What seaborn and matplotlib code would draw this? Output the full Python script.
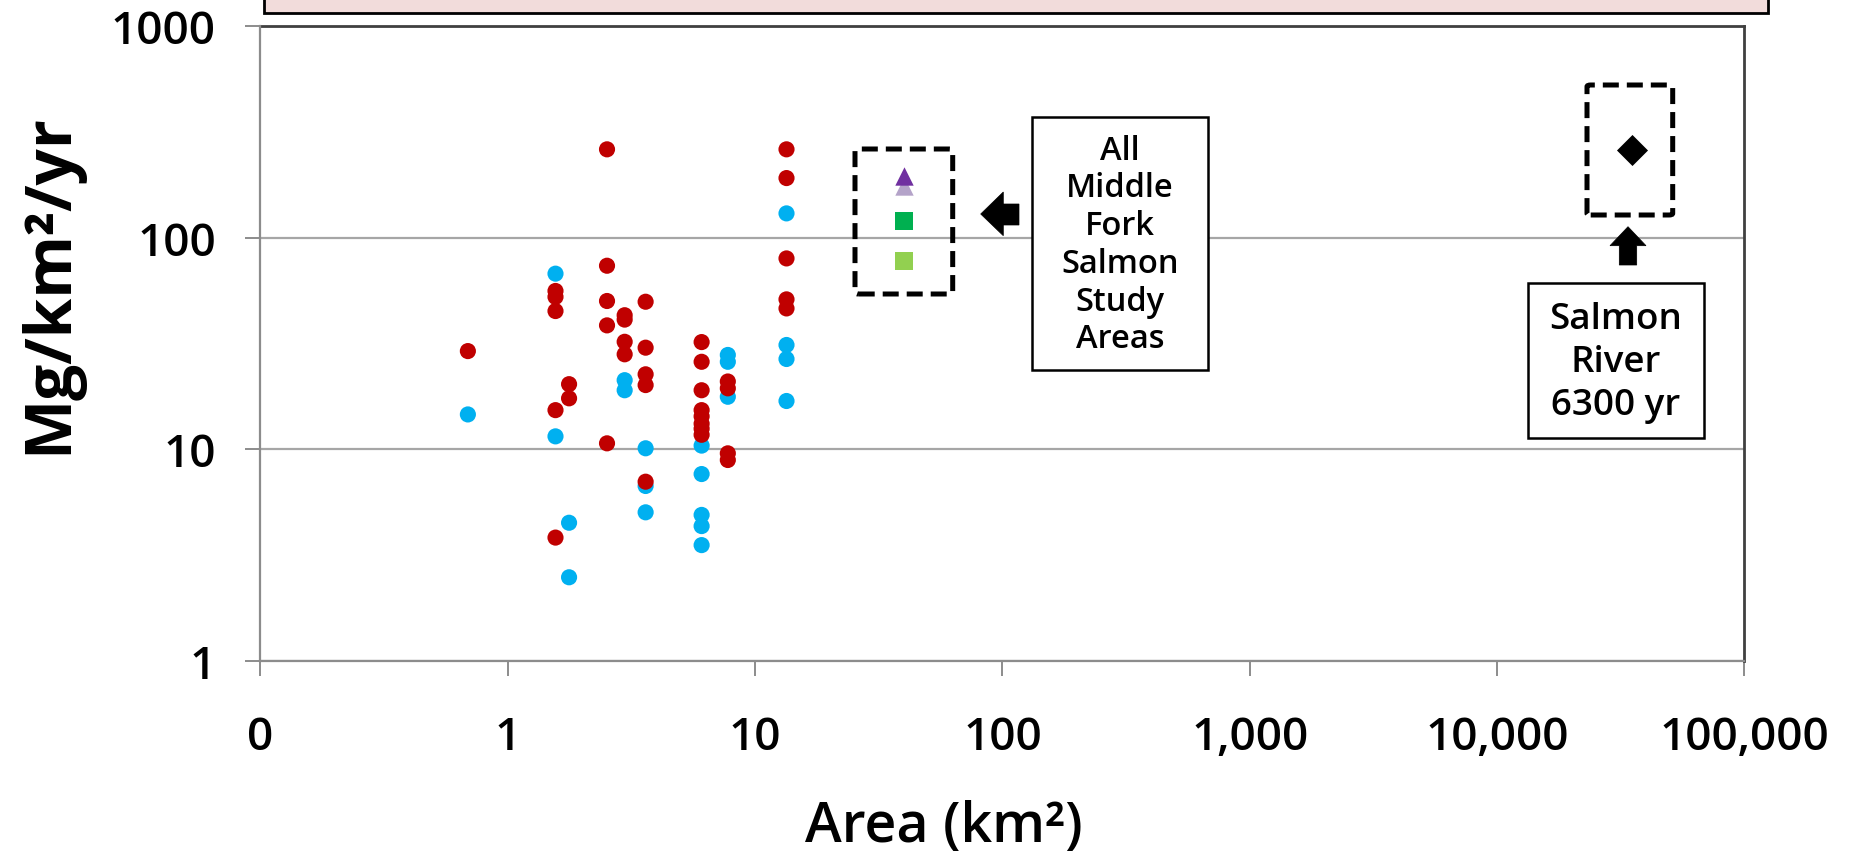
import matplotlib
matplotlib.use("Agg")
import matplotlib.pyplot as plt
import seaborn as sns
import pandas as pd
import numpy as np
from matplotlib.patches import Rectangle, Polygon, FancyBboxPatch

# ---------------- data ----------------
blue_x = [0.69, 1.56, 1.56, 1.77, 1.77, 2.97, 2.97, 3.61, 3.61, 3.61,
          6.08, 6.08, 6.08, 6.08, 6.08, 7.76, 7.76, 7.76,
          13.4, 13.4, 13.4, 13.4]
blue_y = [14.6, 67.6, 11.5, 4.49, 2.48, 21.2, 19.0, 10.1, 6.7, 5.03,
          10.4, 7.63, 4.89, 4.33, 3.52, 27.9, 25.9, 17.7,
          130.3, 31.1, 26.7, 16.9]

red_x = [0.69, 1.56, 1.56, 1.56, 1.56, 1.56, 1.77, 1.77,
         2.52, 2.52, 2.52, 2.52, 2.52, 2.97, 2.97, 2.97, 2.97,
         3.61, 3.61, 3.61, 3.61, 3.61,
         6.08, 6.08, 6.08, 6.08, 6.08, 6.08, 6.08, 6.08,
         7.76, 7.76, 7.76, 7.76,
         13.4, 13.4, 13.4, 13.4, 13.4]
red_y = [29.1, 56.0, 52.5, 45.0, 15.3, 3.82, 20.3, 17.4,
         261.7, 73.7, 50.2, 38.5, 10.66, 43.0, 41.0, 32.2, 28.1,
         49.8, 30.2, 22.6, 20.1, 7.02,
         32.1, 25.9, 19.0, 15.3, 14.3, 13.2, 12.5, 11.7,
         20.9, 19.4, 9.56, 8.89,
         261.7, 191.4, 79.8, 51.1, 46.3]

mfs_x = [40, 40, 40, 40]
mfs_y = [175, 196, 119.5, 78]
mfs_marker = ["^", "^", "s", "s"]
mfs_color = ["#b4a3c9", "#7030a0", "#00b050", "#92d050"]

salmon_x = [35000]
salmon_y = [260]

x_ticks = [0.1, 1, 10, 100, 1000, 10000, 100000]
x_tick_labels = ["0", "1", "10", "100", "1,000", "10,000", "100,000"]
y_ticks = [1, 10, 100, 1000]
y_tick_labels = ["1", "10", "100", "1000"]

# ---------------- figure ----------------
sns.set_theme(style="white")
plt.rcParams['font.family'] = ['Open Sans', 'DejaVu Sans']

W, H = 1856, 853
fig = plt.figure(figsize=(W / 100, H / 100), dpi=100)
fig.patch.set_facecolor("white")

def fx(x):
    return x / W

def fy(y):
    return 1 - y / H

ax_l, ax_r, ax_t, ax_b = 260.4, 1744.4, 27.2, 661.7
ax = fig.add_axes([fx(ax_l), fy(ax_b), (ax_r - ax_l) / W, (ax_b - ax_t) / H])
ax.set_facecolor("white")

df = pd.concat([
    pd.DataFrame({"area": blue_x, "rate": blue_y, "grp": "blue"}),
    pd.DataFrame({"area": red_x, "rate": red_y, "grp": "red"}),
])
sns.scatterplot(data=df, x="area", y="rate", hue="grp",
                palette={"blue": "#00b0f0", "red": "#c00000"},
                s=135, linewidth=0, legend=False, ax=ax, zorder=3)

for xv, yv, m, c in zip(mfs_x, mfs_y, mfs_marker, mfs_color):
    sz = 175 if m == "^" else 185
    sns.scatterplot(x=[xv], y=[yv], marker=m, color=c, s=sz, linewidth=0,
                    legend=False, ax=ax, zorder=3)

sns.scatterplot(x=salmon_x, y=salmon_y, marker="D", color="black", s=250,
                linewidth=0, legend=False, ax=ax, zorder=3)

ax.set_xscale("log")
ax.set_yscale("log")
ax.set_xlim(0.1, 100000)
ax.set_ylim(1, 1000)
ax.set_xticks(x_ticks)
ax.set_xticklabels(x_tick_labels)
ax.set_yticks(y_ticks)
ax.set_yticklabels(y_tick_labels)
ax.minorticks_off()

ax.yaxis.grid(True, color="#a6a6a6", linewidth=1.6)
ax.xaxis.grid(False)
ax.set_axisbelow(True)

for side in ["left", "bottom"]:
    ax.spines[side].set_color("#8c8c8c")
    ax.spines[side].set_linewidth(1.6)
    ax.spines[side].set_zorder(4)
for side in ["top", "right"]:
    ax.spines[side].set_color("#404040")
    ax.spines[side].set_linewidth(2.0)
    ax.spines[side].set_visible(True)

ax.tick_params(axis="both", which="major", direction="out", length=11,
               width=1.4, color="#8c8c8c", labelsize=33, labelcolor="black",
               left=True, bottom=True)
ax.tick_params(axis="x", pad=28)
ax.tick_params(axis="y", pad=21)
for lab in ax.get_xticklabels() + ax.get_yticklabels():
    lab.set_fontweight("semibold")

ax.set_xlabel("Area (km²)", fontsize=40, fontweight="semibold", color="black")
ax.set_ylabel("Mg/km²/yr", fontsize=46, fontweight="bold", color="black")
ax.xaxis.label.set_va("center")
ax.yaxis.label.set_va("center")
ax.xaxis.set_label_coords((943.5 - ax_l) / (ax_r - ax_l), (ax_b - 828) / (ax_b - ax_t))
ax.yaxis.set_label_coords((50 - ax_l) / (ax_r - ax_l), (ax_b - 284) / (ax_b - ax_t))

# ---------------- decorations (figure pixel positions) ----------------
# pink banner at top (cut off)
fig.add_artist(Rectangle((fx(264), fy(14)), (1768 - 264) / W, 40 / H,
                         transform=fig.transFigure, facecolor="#f2dcdb",
                         edgecolor="black", linewidth=2, zorder=1))

def dashed_box(x0, y0, x1, y1):
    p = FancyBboxPatch((fx(x0), fy(y1)), (x1 - x0) / W, (y1 - y0) / H,
                       boxstyle="round,pad=0,rounding_size=0.002",
                       transform=fig.transFigure, facecolor="none",
                       edgecolor="black", linewidth=3.6,
                       linestyle=(0, (3.2, 1.6)), zorder=5)
    fig.add_artist(p)

dashed_box(855, 150, 952.7, 295)
dashed_box(1587, 86, 1672.7, 216)

def poly(pts):
    fig.add_artist(Polygon([(fx(a), fy(b)) for a, b in pts], closed=True,
                           transform=fig.transFigure, facecolor="black",
                           edgecolor="black", linewidth=0.5, zorder=5))

# left-pointing block arrow
poly([(980.7, 215), (1003.3, 193), (1003.3, 205), (1019, 205),
      (1019, 226), (1003.3, 226), (1003.3, 236.7)])
# up-pointing block arrow
poly([(1628, 227.7), (1646, 246.7), (1636.7, 246.7), (1636.7, 266),
      (1619.3, 266), (1619.3, 246.7), (1610, 246.7)])

def text_box(x0, y0, x1, y1, txt, fs, ls):
    fig.add_artist(Rectangle((fx(x0), fy(y1)), (x1 - x0) / W, (y1 - y0) / H,
                             transform=fig.transFigure, facecolor="white",
                             edgecolor="black", linewidth=1.8, zorder=5))
    fig.text(fx((x0 + x1) / 2), fy((y0 + y1) / 2 + 1), txt, ha="center",
             va="center", fontsize=fs, linespacing=ls, color="black",
             zorder=6, fontweight="semibold")

text_box(1031.7, 118.3, 1208.3, 370.7,
         "All\nMiddle\nFork\nSalmon\nStudy\nAreas", 23.5, 1.19)
text_box(1527.7, 284, 1704.3, 439.3, "Salmon\nRiver\n6300 yr", 26.5, 1.26)

fig.savefig("out.png", dpi=100, facecolor="white")
